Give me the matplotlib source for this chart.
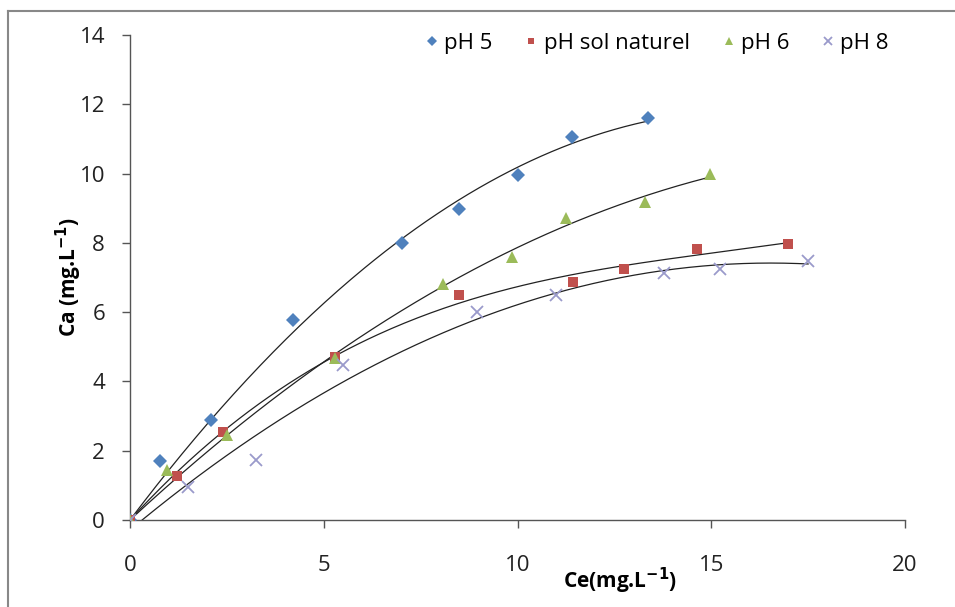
import numpy as np
import matplotlib
matplotlib.use("Agg")
import matplotlib.pyplot as plt
from matplotlib.lines import Line2D

# values
x_ph5 = [0, 0.77, 2.09, 4.2, 7.02, 8.49, 10.0, 11.4, 13.37]
y_ph5 = [0, 1.70, 2.89, 5.77, 8.0, 8.98, 9.96, 11.06, 11.6]

x_nat = [0, 1.21, 2.4, 5.29, 8.49, 11.43, 12.75, 14.63, 16.98]
y_nat = [0, 1.27, 2.54, 4.7, 6.5, 6.87, 7.25, 7.82, 7.97]

x_ph6 = [0, 0.95, 2.5, 5.3, 8.08, 9.86, 11.25, 13.3, 14.97]
y_ph6 = [0, 1.44, 2.45, 4.68, 6.81, 7.6, 8.72, 9.18, 9.99]

x_ph8 = [0, 1.5, 3.25, 5.5, 8.95, 11.0, 13.78, 15.23, 17.5]
y_ph8 = [0, 0.95, 1.73, 4.47, 6.0, 6.5, 7.13, 7.24, 7.48]

plt.rcParams['font.family'] = ['Open Sans', 'DejaVu Sans']
plt.rcParams['font.size'] = 15

fig = plt.figure(figsize=(9.55, 6.07), dpi=100)
ax = fig.add_axes([130/955, 1-520/607, 775/955, 485/607])

# (x, y, marker, colour, label, size, trend order, through origin)
series = [
    (x_ph5, y_ph5, 'D', '#4F81BD', 'pH 5', 7.5, 2, True),
    (x_nat, y_nat, 's', '#C0504D', 'pH sol naturel', 7, 3, True),
    (x_ph6, y_ph6, '^', '#9BBB59', 'pH 6', 8.5, 2, True),
    (x_ph8, y_ph8, 'x', '#9A9ACB', 'pH 8', 9, 2, False),
]

for xs, ys, mk, col, lab, ms, deg, origin in series:
    xs = np.array(xs)
    ys = np.array(ys)
    # polynomial trendline
    if origin:
        A = np.column_stack([xs**k for k in range(deg, 0, -1)])
        c = np.linalg.lstsq(A, ys, rcond=None)[0]
        p = list(c) + [0]
    else:
        p = np.polyfit(xs, ys, deg)
    xx = np.linspace(xs.min(), xs.max(), 200)
    ax.plot(xx, np.polyval(p, xx), '-', color='#222222', lw=0.9, zorder=2)
for xs, ys, mk, col, lab, ms, deg, origin in series:
    if mk == 'x':
        ax.plot(xs, ys, mk, color=col, ms=ms, mew=1.3, label=lab, zorder=3,
                linestyle='none')
    else:
        ax.plot(xs, ys, mk, color=col, ms=ms, mew=0, label=lab, zorder=3,
                linestyle='none')

ax.set_xlim(0, 20)
ax.set_ylim(0, 14)
ax.set_xticks([0, 5, 10, 15, 20])
ax.set_yticks(range(0, 15, 2))
ax.spines['top'].set_visible(False)
ax.spines['right'].set_visible(False)
for s in ['left', 'bottom']:
    ax.spines[s].set_color('#555555')
    ax.spines[s].set_linewidth(1)
ax.tick_params(direction='out', length=6, width=1, color='#555555',
               labelsize=16, labelcolor='#222222')
ax.tick_params(axis='x', pad=19)
ax.tick_params(axis='y', pad=12)

ax.set_xlabel(r'Ce(mg.L$^{\mathbf{-1}}$)', fontweight='bold', fontsize=15)
ax.xaxis.set_label_coords(0.633, -0.095)
ax.set_ylabel(r'Ca (mg.L$^{\mathbf{-1}}$)', fontweight='bold', fontsize=15)
ax.yaxis.set_label_coords(-0.06, 0.5)

leg = ax.legend(loc='upper right', bbox_to_anchor=(1.005, 1.045), ncol=4,
                frameon=False, fontsize=16, handletextpad=0.1,
                columnspacing=1.3, handlelength=0.9, markerscale=0.7)

# chart area border (grey)
fig.add_artist(Line2D([8/955, 8/955], [0, 1-11/607], color='#888888', lw=1.5))
fig.add_artist(Line2D([8/955, 1], [1-11/607, 1-11/607], color='#888888', lw=1.5))

plt.savefig("out.png", dpi=100)
